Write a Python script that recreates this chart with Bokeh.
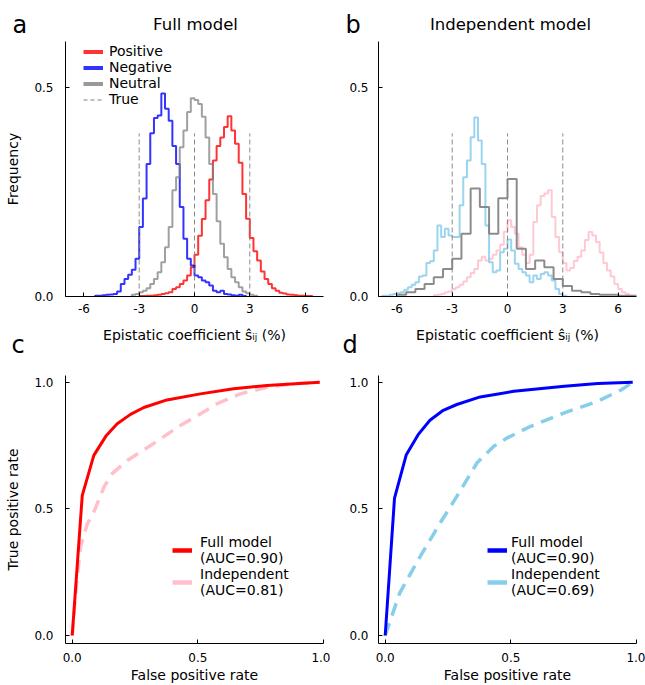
import numpy as np
from bokeh.plotting import figure
from bokeh.layouts import column, row
from bokeh.models import Label, Legend, LegendItem, FixedTicker, Range1d
from bokeh.embed import file_html
from bokeh.resources import INLINE

FONT = "DejaVu Sans"

# ---------------- data ----------------
# Panel a (Full model): histogram heights (frequency density), bin width 0.2
bin_a = 0.2
pos_full_start = -3.0
pos_full = [0.001, 0.001, 0.002, 0.002, 0.003, 0.004, 0.006, 0.008, 0.010, 0.018,
            0.022, 0.030, 0.038, 0.050, 0.070, 0.100, 0.145, 0.185, 0.230, 0.280,
            0.325, 0.360, 0.380, 0.405, 0.431, 0.397, 0.365, 0.320, 0.245, 0.186,
            0.140, 0.108, 0.086, 0.060, 0.042, 0.030, 0.020, 0.014, 0.009, 0.007,
            0.005, 0.004, 0.003, 0.002, 0.002, 0.001, 0.001]
neg_full_start = -5.4
neg_full = [0.002, 0.002, 0.003, 0.004, 0.005, 0.006, 0.012, 0.030, 0.042, 0.052,
            0.064, 0.090, 0.166, 0.234, 0.317, 0.390, 0.427, 0.433, 0.485, 0.449,
            0.420, 0.360, 0.317, 0.214, 0.138, 0.090, 0.074, 0.050, 0.046, 0.038,
            0.034, 0.026, 0.014, 0.010, 0.014, 0.006, 0.005, 0.003, 0.002, 0.004,
            0.001]
neu_full_start = -3.4
neu_full = [0.004, 0.006, 0.010, 0.014, 0.020, 0.030, 0.042, 0.058, 0.082, 0.118,
            0.166, 0.254, 0.285, 0.357, 0.397, 0.441, 0.474, 0.470, 0.460, 0.430,
            0.380, 0.317, 0.245, 0.180, 0.126, 0.094, 0.066, 0.046, 0.034, 0.022,
            0.012, 0.008, 0.004, 0.002]

# Panel b (Independent model)
bin_b = 0.2
pos_ind_start = -4.0
pos_ind = [0.003, 0.004, 0.006, 0.010, 0.012, 0.018, 0.022, 0.028, 0.036, 0.046,
           0.056, 0.066, 0.086, 0.095, 0.086, 0.090, 0.100, 0.110, 0.124, 0.155,
           0.182, 0.166, 0.150, 0.118, 0.100, 0.080, 0.100, 0.178, 0.218, 0.240,
           0.246, 0.254, 0.190, 0.142, 0.106, 0.080, 0.062, 0.068, 0.085, 0.095,
           0.110, 0.135, 0.154, 0.146, 0.130, 0.105, 0.080, 0.062, 0.048, 0.030,
           0.018, 0.010, 0.006, 0.002]
neg_ind_start = -6.8
neg_ind = [0.002, 0.002, 0.004, 0.006, 0.008, 0.010, 0.016, 0.022, 0.028, 0.034,
           0.048, 0.050, 0.080, 0.084, 0.110, 0.170, 0.142, 0.162, 0.146, 0.142,
           0.142, 0.218, 0.285, 0.325, 0.381, 0.428, 0.373, 0.317, 0.170, 0.082,
           0.058, 0.062, 0.106, 0.114, 0.136, 0.110, 0.078, 0.066, 0.058, 0.050,
           0.034, 0.050, 0.042, 0.054, 0.058, 0.050, 0.038, 0.018, 0.006, 0.002]
bin_b_neu = 0.5
neu_ind_start = -6.0
neu_ind = [0.004, 0.010, 0.018, 0.030, 0.046, 0.066, 0.090, 0.150, 0.258, 0.214,
           0.150, 0.235, 0.281, 0.114, 0.066, 0.086, 0.070, 0.042, 0.025, 0.014,
           0.010, 0.006, 0.004, 0.004, 0.002, 0.002]

true_values = [-3, 0, 3]
true_height = 0.39

hist_xticks = [-6, -3, 0, 3, 6]
hist_xlabels = ["-6", "-3", "0", "3", "6"]
hist_yticks = [0, 0.5]
hist_ylabels = ["0.0", "0.5"]

# Panel c / d: ROC curves
roc_full_c_fpr = [0, 0.040, 0.086, 0.136, 0.179, 0.232, 0.285, 0.377, 0.510, 0.642, 0.775, 0.985]
roc_full_c_tpr = [0, 0.553, 0.711, 0.790, 0.836, 0.873, 0.900, 0.930, 0.954, 0.974, 0.987, 1.0]
roc_ind_c_fpr = [0, 0.017, 0.033, 0.060, 0.089, 0.126, 0.159, 0.219, 0.298, 0.430, 0.510, 0.576, 0.669, 0.775, 0.868, 0.985]
roc_ind_c_tpr = [0, 0.200, 0.350, 0.440, 0.494, 0.586, 0.639, 0.691, 0.741, 0.829, 0.875, 0.915, 0.954, 0.980, 0.993, 1.0]
roc_full_d_fpr = [0, 0.037, 0.084, 0.131, 0.178, 0.231, 0.285, 0.378, 0.512, 0.713, 0.846, 0.985]
roc_full_d_tpr = [0, 0.542, 0.714, 0.793, 0.850, 0.889, 0.912, 0.942, 0.964, 0.984, 0.995, 1.0]
roc_ind_d_fpr = [0, 0.057, 0.131, 0.218, 0.285, 0.365, 0.432, 0.485, 0.579, 0.713, 0.846, 0.940, 0.985]
roc_ind_d_tpr = [0, 0.166, 0.298, 0.443, 0.549, 0.681, 0.747, 0.780, 0.826, 0.879, 0.925, 0.970, 1.0]

roc_ticks = [0, 0.5, 1.0]
roc_labels = ["0.0", "0.5", "1.0"]

auc_c = ["0.90", "0.81"]
auc_d = ["0.90", "0.69"]

NAN = [float("nan")]


def step_xy(start, width, heights):
    edges = start + width * np.arange(len(heights) + 1)
    x = np.concatenate([[edges[0]], edges])
    y = np.concatenate([[0.0], np.asarray(heights, float), [0.0]])
    return x, y


def style(p, xticks, xlabels, yticks, ylabels, xlabel=None, ylabel=None,
          tick_standoff_x=7, label_standoff_x=2, tick_standoff_y=12, label_standoff_y=10):
    p.outline_line_color = None
    p.xgrid.visible = False
    p.ygrid.visible = False
    p.background_fill_color = "white"
    p.border_fill_color = "white"
    for ax, ticks, labels in ((p.xaxis[0], xticks, xlabels), (p.yaxis[0], yticks, ylabels)):
        ax.ticker = FixedTicker(ticks=ticks)
        ax.major_label_overrides = {t: l for t, l in zip(ticks, labels)}
        ax.major_tick_in = 4
        ax.major_tick_out = 0
        ax.minor_tick_line_color = None
        ax.axis_line_color = "black"
        ax.major_tick_line_color = "black"
        ax.major_label_text_font = FONT
        ax.major_label_text_font_size = "12px"
        ax.major_label_text_color = "black"
        ax.axis_label_text_font = FONT
        ax.axis_label_text_font_size = "14px"
        ax.axis_label_text_font_style = "normal"
        ax.axis_label_text_color = "black"
    p.xaxis[0].major_label_standoff = tick_standoff_x
    p.xaxis[0].axis_label_standoff = label_standoff_x
    p.yaxis[0].major_label_standoff = tick_standoff_y
    p.yaxis[0].axis_label_standoff = label_standoff_y
    if xlabel:
        p.xaxis[0].axis_label = xlabel
    if ylabel:
        p.yaxis[0].axis_label = ylabel


def strip(h):
    s = figure(width=645, height=h, x_range=Range1d(0, 645), y_range=Range1d(h, 0),
               x_axis_type=None, y_axis_type=None, output_backend="svg",
               toolbar_location=None, min_border=0)
    s.outline_line_color = None
    s.background_fill_color = "white"
    s.border_fill_color = "white"
    return s


def add_label(p, x, y, text, size, align="left", baseline="middle"):
    p.add_layout(Label(x=x, y=y, text=text, text_font=FONT, text_font_size=size,
                       text_align=align, text_baseline=baseline, text_color="black"))


XLAB = "Epistatic coefficient ŝᵢⱼ (%)"

# ---------------- top strip: panel letters and titles ----------------
TOP_H = 41
top = strip(TOP_H)
add_label(top, 12, 24.5, "a", "24px")
add_label(top, 195, 23.5, "Full model", "16.5px", "center")
add_label(top, 345, 24.5, "b", "24px")
add_label(top, 510, 23.5, "Independent model", "16.5px", "center")

# ---------------- panel a ----------------
ROW1_H = 318 - TOP_H
hist_top = (296 - TOP_H) / 418.3
pa = figure(width=330, height=ROW1_H, output_backend="svg", toolbar_location=None,
            x_range=Range1d(-7, 7), y_range=Range1d(0, hist_top),
            min_border_left=65, min_border_right=7, min_border_top=0, min_border_bottom=22)
style(pa, hist_xticks, hist_xlabels, hist_yticks, hist_ylabels, None, "Frequency")

x, y = step_xy(pos_full_start, bin_a, pos_full)
pa.step(x, y, mode="after", line_color="red", line_alpha=0.8, line_width=2)
x, y = step_xy(neg_full_start, bin_a, neg_full)
pa.step(x, y, mode="after", line_color="blue", line_alpha=0.8, line_width=2)
x, y = step_xy(neu_full_start, bin_a, neu_full)
pa.step(x, y, mode="after", line_color="gray", line_alpha=0.75, line_width=2)
pa.segment(x0=true_values, y0=[0] * len(true_values), x1=true_values,
           y1=[true_height] * len(true_values), line_color="gray", line_width=1,
           line_dash="5 3", line_alpha=0.9)

lg = [pa.line(x=NAN, y=NAN, line_color="red", line_alpha=0.8, line_width=4),
      pa.line(x=NAN, y=NAN, line_color="blue", line_alpha=0.8, line_width=4),
      pa.line(x=NAN, y=NAN, line_color="gray", line_alpha=0.8, line_width=4),
      pa.line(x=NAN, y=NAN, line_color="gray", line_width=1, line_dash="4 3")]
leg_a = Legend(items=[LegendItem(label=l, renderers=[r]) for l, r in
                      zip(["Positive", "Negative", "Neutral", "True"], lg)],
               location=(18, 189), padding=0, margin=0, spacing=0,
               glyph_width=20, glyph_height=15, label_height=15, label_standoff=6,
               label_text_font=FONT, label_text_font_size="14px", label_text_color="black",
               label_text_line_height=1.0,
               background_fill_alpha=0, border_line_color=None)
pa.add_layout(leg_a)

# ---------------- panel b ----------------
pb = figure(width=315, height=ROW1_H, output_backend="svg", toolbar_location=None,
            x_range=Range1d(-7, 7), y_range=Range1d(0, hist_top),
            min_border_left=48, min_border_right=9, min_border_top=0, min_border_bottom=22)
style(pb, hist_xticks, hist_xlabels, hist_yticks, hist_ylabels, None, None, tick_standoff_y=10)

x, y = step_xy(pos_ind_start, bin_b, pos_ind)
pb.step(x, y, mode="after", line_color="pink", line_alpha=0.85, line_width=2)
x, y = step_xy(neg_ind_start, bin_b, neg_ind)
pb.step(x, y, mode="after", line_color="skyblue", line_alpha=0.85, line_width=2)
x, y = step_xy(neu_ind_start, bin_b_neu, neu_ind)
pb.step(x, y, mode="after", line_color="gray", line_alpha=0.9, line_width=2)
pb.segment(x0=true_values, y0=[0] * len(true_values), x1=true_values,
           y1=[true_height] * len(true_values), line_color="gray", line_width=1,
           line_dash="5 3", line_alpha=0.9)

# ---------------- middle strip: x-axis titles of row 1, panel letters c/d ----------------
mid = strip(54)
add_label(mid, 194, 16, XLAB, "14px", "center")
add_label(mid, 507, 16, XLAB, "14px", "center")
add_label(mid, 11, 26.5, "c", "24px")
add_label(mid, 342, 26.5, "d", "24px")

# ---------------- panel c ----------------
roc_x = (-0.0267, 1.0)
roc_y = (-0.0316, 1.0265)
pc = figure(width=330, height=313, output_backend="svg", toolbar_location=None,
            x_range=Range1d(*roc_x), y_range=Range1d(*roc_y),
            min_border_left=65, min_border_right=7, min_border_top=3, min_border_bottom=42)
style(pc, roc_ticks, roc_labels, roc_ticks, roc_labels, "False positive rate", "True positive rate",
      tick_standoff_x=9, label_standoff_x=2)
pc.line(roc_ind_c_fpr, roc_ind_c_tpr, line_color="pink", line_width=3.5, line_dash="13 8")
pc.line(roc_full_c_fpr, roc_full_c_tpr, line_color="red", line_width=3)
lc = [pc.line(x=NAN, y=NAN, line_color="red", line_width=4.5),
      pc.line(x=NAN, y=NAN, line_color="pink", line_width=4.5)]
leg_c = Legend(items=[LegendItem(label="Full model\n(AUC=%s)" % auc_c[0], renderers=[lc[0]]),
                      LegendItem(label="Independent\n(AUC=%s)" % auc_c[1], renderers=[lc[1]])],
               location=(107, 45), padding=0, margin=0, spacing=0,
               glyph_width=20, glyph_height=32, label_height=32, label_standoff=8,
               label_text_font=FONT, label_text_font_size="14px", label_text_line_height=1.15,
               label_text_color="black", background_fill_alpha=0, border_line_color=None)
pc.add_layout(leg_c)

# ---------------- panel d ----------------
pd_ = figure(width=315, height=313, output_backend="svg", toolbar_location=None,
             x_range=Range1d(*roc_x), y_range=Range1d(*roc_y),
             min_border_left=48, min_border_right=9, min_border_top=3, min_border_bottom=42)
style(pd_, roc_ticks, roc_labels, roc_ticks, roc_labels, "False positive rate", None,
      tick_standoff_x=9, label_standoff_x=2, tick_standoff_y=10)
pd_.line(roc_ind_d_fpr, roc_ind_d_tpr, line_color="skyblue", line_width=3.5, line_dash="13 8")
pd_.line(roc_full_d_fpr, roc_full_d_tpr, line_color="blue", line_width=3)
ld = [pd_.line(x=NAN, y=NAN, line_color="blue", line_width=4.5),
      pd_.line(x=NAN, y=NAN, line_color="skyblue", line_width=4.5)]
leg_d = Legend(items=[LegendItem(label="Full model\n(AUC=%s)" % auc_d[0], renderers=[ld[0]]),
                      LegendItem(label="Independent\n(AUC=%s)" % auc_d[1], renderers=[ld[1]])],
               location=(109, 45), padding=0, margin=0, spacing=0,
               glyph_width=20, glyph_height=32, label_height=32, label_standoff=4,
               label_text_font=FONT, label_text_font_size="14px", label_text_line_height=1.15,
               label_text_color="black", background_fill_alpha=0, border_line_color=None)
pd_.add_layout(leg_d)

layout = column(top, row(pa, pb), mid, row(pc, pd_))
open("out.html", "w").write(file_html(layout, INLINE))
